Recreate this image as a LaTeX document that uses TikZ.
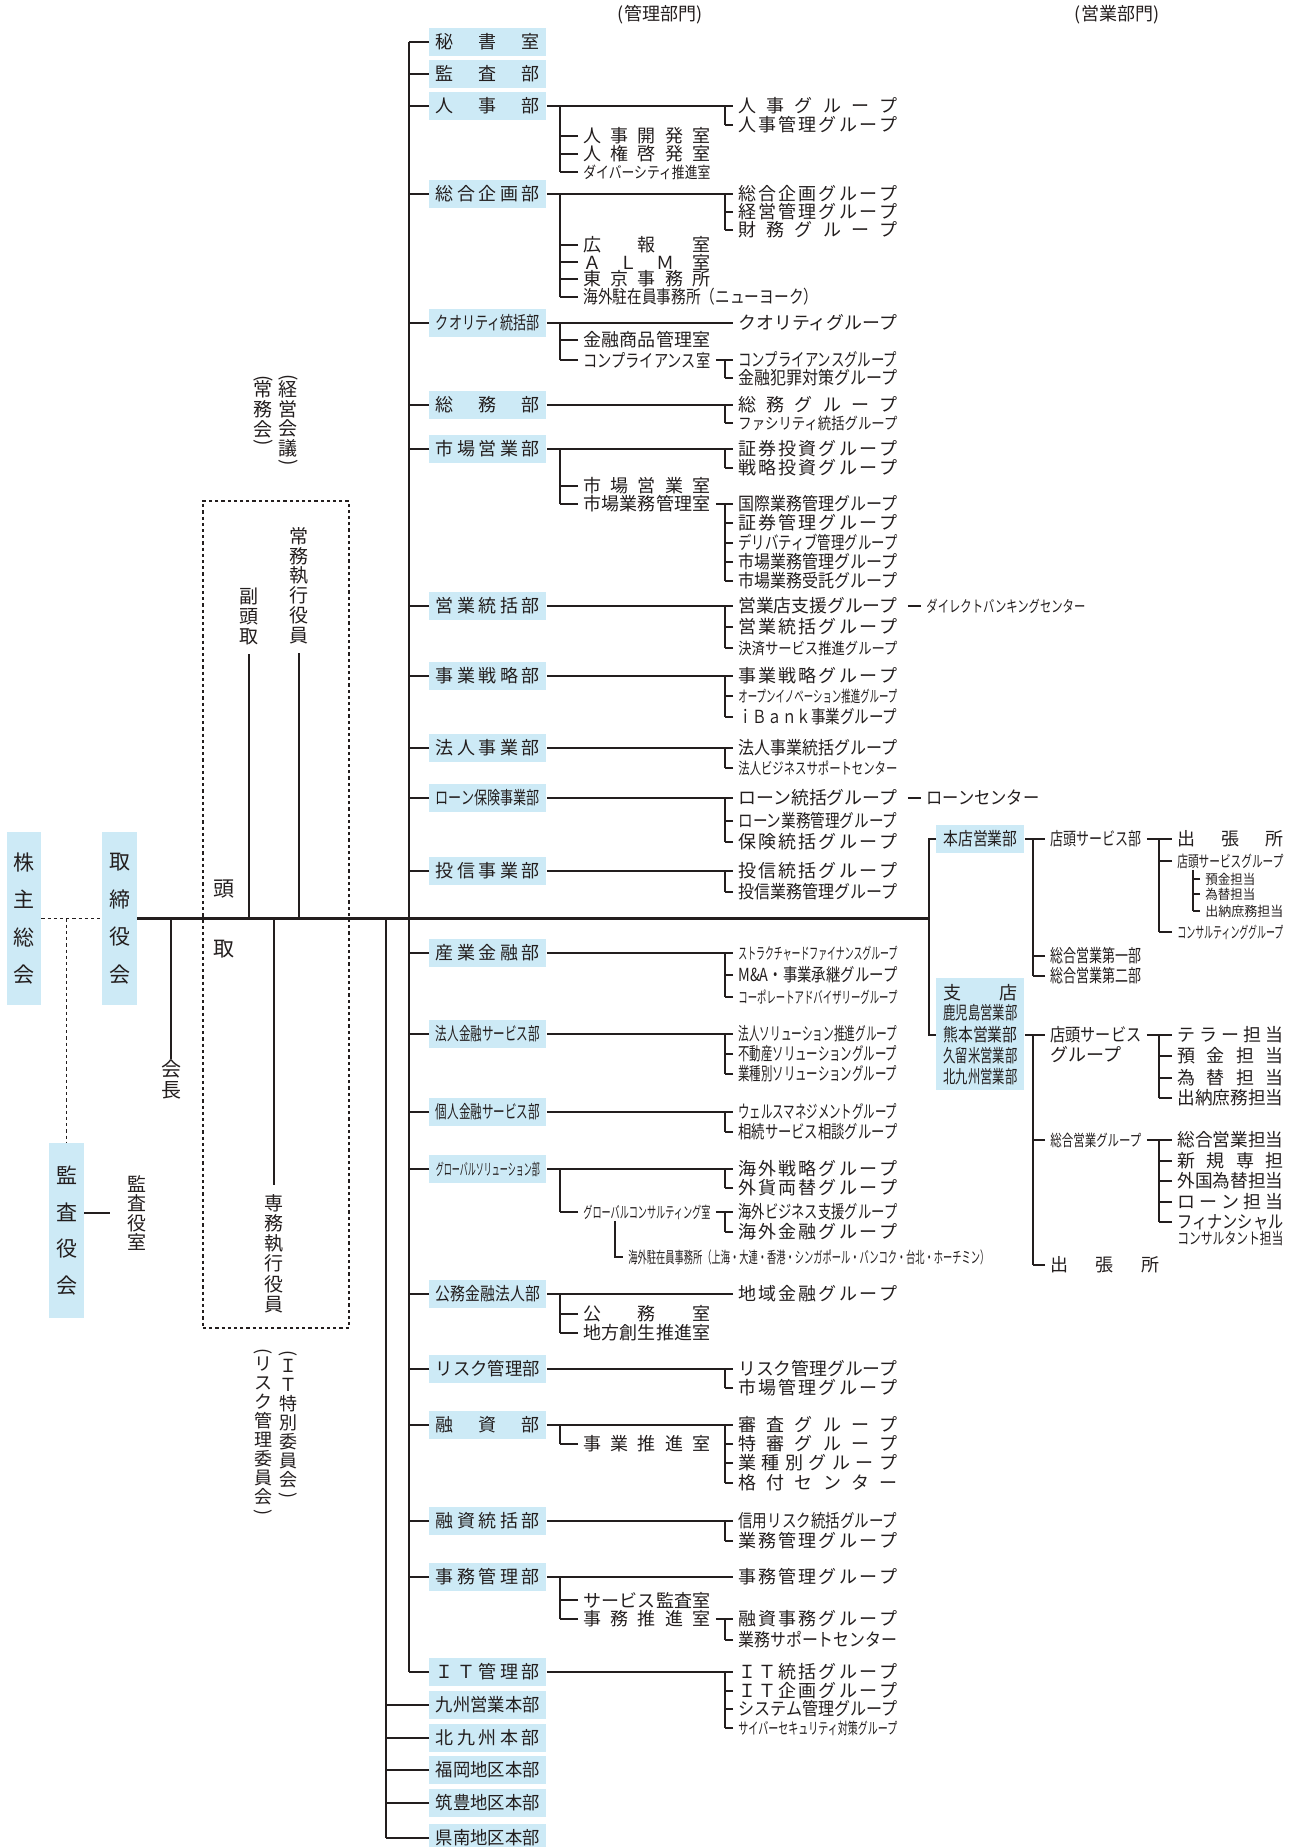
\documentclass[tikz,border=0pt]{standalone}
\usepackage{fontspec}
\usepackage{graphicx}
\setmainfont{Noto Sans CJK JP}
\usetikzlibrary{calc}

\definecolor{boxblue}{RGB}{205,234,246}
\definecolor{lnc}{RGB}{35,30,30}

\newdimen\pxu \pxu=0.5pt
\newcommand\fnb{\fontsize{9pt}{10pt}\selectfont}
\newcommand\fsm{\fontsize{8pt}{9pt}\selectfont}
\newcommand\fxs{\fontsize{6.75pt}{8pt}\selectfont}
\newcommand\fbig{\fontsize{10.5pt}{18.75pt}\selectfont}
\newcommand\fvt{\fontsize{9.5pt}{9.85pt}\selectfont}
\newcommand\fvs{\fontsize{9pt}{9.5pt}\selectfont}

% spread the characters over a width / squeeze them into it
\makeatletter
\newcommand\spr[2]{\hbox to #1\pxu{\def\spr@s{}\@tfor\spr@c:=#2\do{\spr@s\spr@c\def\spr@s{\hfill}}}}
\newcommand\lbl[2]{\setbox\z@\hbox{#2}\ifdim\wd\z@>#1\pxu\relax\resizebox{#1\pxu}{\height}{#2}\else\spr{#1}{#2}\fi}
\makeatother
\newcommand\vpo{\rotatebox[origin=c]{-90}{(}}
\newcommand\vpc{\rotatebox[origin=c]{-90}{)}}

% department box, group, office
\newcommand\dnode[4][]{\node[dept,#1] (#2) at (429,#3) {\lbl{104}{#4}};}
\newcommand\gnode[4][]{\node[grp,#1] (#2) at (733,#3) {\lbl{159}{#4}};}
\newcommand\onode[4][]{\node[grp,#1] (#2) at (578,#3) {\lbl{127}{#4}};}
\newcommand\brk[3]{\draw[ln] (#2 -| #1) -- (#3 -| #1);}
\newcommand\ticks[2]{\foreach \nn in {#2}{\draw[ln] (\nn.west) -- (\nn.west -| #1);}}

\begin{document}
\begin{tikzpicture}[x=0.5pt,y=-0.5pt,
    ln/.style={draw=lnc,line width=0.6pt},
    thk/.style={draw=lnc,line width=1.1pt},
    dsh/.style={draw=lnc,line width=0.55pt,dash pattern=on 1.6pt off 1.5pt},
    dept/.style={fill=boxblue,anchor=west,inner xsep=3.25pt,inner ysep=0pt,minimum height=14pt,text=lnc,font=\fnb},
    grp/.style={anchor=west,inner xsep=2.5pt,inner ysep=0.5pt,text=lnc,font=\fnb},
    vbox/.style={fill=boxblue,align=center,inner sep=0pt,text=lnc,font=\fbig},
    vtxt/.style={align=center,inner sep=0pt,text=lnc}]
    \useasboundingbox (0,0) rectangle (1298,1847);

    % headings
    \node[text=lnc,font=\fnb] (kanri) at (660,15) {(管理部門)};
    \node[text=lnc,font=\fnb] (eigyo) at (1117,15) {(営業部門)};

    % shareholders, board, auditors
    \node[vbox,minimum width=17pt,minimum height=86.5pt] (kabu) at (24,918.5) {株\\主\\総\\会};
    \node[vbox,minimum width=17.5pt,minimum height=86.5pt] (tori) at (119.5,918.5) {取\\締\\役\\会};
    \node[vbox,minimum width=17.5pt,minimum height=87.5pt,font=\fontsize{10.5pt}{18.3pt}\selectfont] (kansa) at (66.5,1230.5) {監\\査\\役\\会};
    \draw[dsh] (kabu.east) -- (tori.west);
    \draw[dsh] (kansa.north |- kabu.east) -- (kansa.north);
    \node[vtxt,font=\fontsize{9.5pt}{9.75pt}\selectfont] (ksr) at (137,1213) {監\\査\\役\\室};
    \draw[ln,shorten >=8.5pt] (kansa.east |- ksr.west) -- (ksr.west);

    % chairman and executives
    \node[vtxt,font=\fontsize{10pt}{10.5pt}\selectfont] (kaicho) at (171,1079) {会\\長};
    \draw[thk] (kaicho.north |- tori.east) -- (kaicho.north);
    \node[dsh,draw=lnc,minimum width=73pt,minimum height=413.5pt,inner sep=0pt] (yakuin) at (276,914.5) {};
    \node[text=lnc,font=\fbig] (toA) at (224,889) {頭};
    \node[text=lnc,font=\fbig] (toB) at (224,949) {取};
    \node[vtxt,font=\fontsize{9.5pt}{10pt}\selectfont] (fuku) at (249,616.5) {副\\頭\\取};
    \node[vtxt,font=\fontsize{9.5pt}{9.9pt}\selectfont] (joumu) at (299,585.5) {常\\務\\執\\行\\役\\員};
    \node[vtxt,font=\fontsize{9.5pt}{10.1pt}\selectfont] (senmu) at (274,1253.5) {専\\務\\執\\行\\役\\員};
    \draw[thk,shorten <=4.5pt] (fuku.south) -- (fuku.south |- tori.east);
    \draw[thk,shorten <=4.5pt] (joumu.south) -- (joumu.south |- tori.east);
    \draw[thk,shorten >=4.5pt] (senmu.north |- tori.east) -- (senmu.north);
    \node[vtxt,font=\fvt] (keiei) at (288,421.5) {\vpo\\[-3.5pt]経\\営\\会\\議\\[-3.5pt]\vpc};
    \node[vtxt,font=\fvt] (jomukai) at (263,412) {\vpo\\[-3.5pt]常\\務\\会\\[-3.5pt]\vpc};
    \node[vtxt,font=\fvs] (itiin) at (288,1425.5) {\vpo\\[-2.5pt]Ｉ\\Ｔ\\特\\別\\委\\員\\会\\[-2.5pt]\vpc};
    \node[vtxt,font=\fvs] (riskiin) at (263,1433) {\vpo\\[-2.5pt]リ\\ス\\ク\\管\\理\\委\\員\\会\\[-2.5pt]\vpc};

    % bracket columns
    \coordinate (ta) at (409,0);
    \coordinate (tb) at (386,918.5);
    \coordinate (ox) at (560,0);
    \coordinate (ox2) at (615,0);
    \coordinate (gx) at (725,0);
    \coordinate (jn) at (929,918.5);
    \coordinate (bx1) at (1033,0);
    \coordinate (bx2) at (1159,0);
    \coordinate (bx3) at (1193,0);

    % main line
    \draw[thk] (tori.east) -- (jn);

    % 秘書室・監査部
    \dnode{hisho}{42}{秘書室}
    \dnode{kansabu}{74}{監査部}

    % 人事部
    \dnode{jinji}{106}{人事部}
    \gnode{jinjiA}{106}{人事グループ}
    \gnode{jinjiB}{125}{人事管理グループ}
    \onode{jinjiX}{136}{人事開発室}
    \onode{jinjiY}{154}{人権啓発室}
    \onode[font=\fsm]{jinjiZ}{172}{ダイバーシティ推進室}
    \draw[ln] (jinji.east) -- (jinjiA.west);
    \brk{gx}{jinjiA.west}{jinjiB.west}
    \ticks{gx}{jinjiB}
    \brk{ox}{jinji.east}{jinjiZ.west}
    \ticks{ox}{jinjiX,jinjiY,jinjiZ}

    % 総合企画部
    \dnode{sogo}{194}{総合企画部}
    \gnode{sogoA}{194}{総合企画グループ}
    \gnode{sogoB}{212}{経営管理グループ}
    \gnode{sogoC}{230}{財務グループ}
    \onode{sogoW}{245}{広報室}
    \onode{sogoX}{262}{ＡＬＭ室}
    \onode{sogoY}{279}{東京事務所}
    \node[grp] (sogoZ) at (578,297) {\lbl{235}{海外駐在員事務所（ニューヨーク）}};
    \draw[ln] (sogo.east) -- (sogoA.west);
    \brk{gx}{sogoA.west}{sogoC.west}
    \ticks{gx}{sogoB,sogoC}
    \brk{ox}{sogo.east}{sogoZ.west}
    \ticks{ox}{sogoW,sogoX,sogoY,sogoZ}

    % クオリティ統括部
    \dnode{qual}{323}{クオリティ統括部}
    \gnode{qualA}{323}{クオリティグループ}
    \onode{qualX}{340}{金融商品管理室}
    \onode{qualY}{360}{コンプライアンス室}
    \gnode{qualB}{360}{コンプライアンスグループ}
    \gnode{qualC}{378}{金融犯罪対策グループ}
    \draw[ln] (qual.east) -- (qualA.west);
    \brk{ox}{qual.east}{qualY.west}
    \ticks{ox}{qualX,qualY}
    \draw[ln] (qualY.east) -- (qualB.west);
    \brk{gx}{qualB.west}{qualC.west}
    \ticks{gx}{qualC}

    % 総務部
    \dnode{somu}{405}{総務部}
    \gnode{somuA}{405}{総務グループ}
    \gnode[font=\fsm]{somuB}{423}{ファシリティ統括グループ}
    \draw[ln] (somu.east) -- (somuA.west);
    \brk{gx}{somuA.west}{somuB.west}
    \ticks{gx}{somuB}

    % 市場営業部
    \dnode{ichiba}{449}{市場営業部}
    \gnode{ichibaA}{449}{証券投資グループ}
    \gnode{ichibaB}{468}{戦略投資グループ}
    \onode{ichibaX}{486}{市場営業室}
    \onode{ichibaY}{504}{市場業務管理室}
    \gnode{ichibaC}{504}{国際業務管理グループ}
    \gnode{ichibaD}{523}{証券管理グループ}
    \gnode{ichibaE}{543}{デリバティブ管理グループ}
    \gnode{ichibaF}{562}{市場業務管理グループ}
    \gnode{ichibaG}{581}{市場業務受託グループ}
    \draw[ln] (ichiba.east) -- (ichibaA.west);
    \brk{gx}{ichibaA.west}{ichibaB.west}
    \ticks{gx}{ichibaB}
    \brk{ox}{ichiba.east}{ichibaY.west}
    \ticks{ox}{ichibaX,ichibaY}
    \draw[ln] (ichibaY.east) -- (ichibaC.west);
    \brk{gx}{ichibaC.west}{ichibaG.west}
    \ticks{gx}{ichibaD,ichibaE,ichibaF,ichibaG}

    % 営業統括部
    \dnode{eito}{606}{営業統括部}
    \gnode{eitoA}{606}{営業店支援グループ}
    \gnode{eitoB}{627}{営業統括グループ}
    \gnode[font=\fsm]{eitoC}{648}{決済サービス推進グループ}
    \node[grp,font=\fsm] (dbc) at (921,606) {\lbl{159}{ダイレクトバンキングセンター}};
    \draw[ln] (eito.east) -- (eitoA.west);
    \brk{gx}{eitoA.west}{eitoC.west}
    \ticks{gx}{eitoB,eitoC}
    \draw[ln,shorten <=2.5pt] (eitoA.east) -- (dbc.west);

    % 事業戦略部
    \dnode{jigyo}{676}{事業戦略部}
    \gnode{jigyoA}{676}{事業戦略グループ}
    \gnode[font=\fsm]{jigyoB}{696}{オープンイノベーション推進グループ}
    \gnode{jigyoC}{717}{ｉＢａｎｋ事業グループ}
    \draw[ln] (jigyo.east) -- (jigyoA.west);
    \brk{gx}{jigyoA.west}{jigyoC.west}
    \ticks{gx}{jigyoB,jigyoC}

    % 法人事業部
    \dnode{hojin}{748}{法人事業部}
    \gnode{hojinA}{748}{法人事業統括グループ}
    \gnode[font=\fsm]{hojinB}{768}{法人ビジネスサポートセンター}
    \draw[ln] (hojin.east) -- (hojinA.west);
    \brk{gx}{hojinA.west}{hojinB.west}
    \ticks{gx}{hojinB}

    % ローン保険事業部
    \dnode{loan}{798}{ローン保険事業部}
    \gnode{loanA}{798}{ローン統括グループ}
    \gnode{loanB}{821}{ローン業務管理グループ}
    \gnode{loanC}{842}{保険統括グループ}
    \node[grp] (lcen) at (921,798) {\lbl{113}{ローンセンター}};
    \draw[ln] (loan.east) -- (loanA.west);
    \brk{gx}{loanA.west}{loanC.west}
    \ticks{gx}{loanB,loanC}
    \draw[ln,shorten <=2.5pt] (loanA.east) -- (lcen.west);

    % 投信事業部
    \dnode{toshin}{871}{投信事業部}
    \gnode{toshinA}{871}{投信統括グループ}
    \gnode{toshinB}{892}{投信業務管理グループ}
    \draw[ln] (toshin.east) -- (toshinA.west);
    \brk{gx}{toshinA.west}{toshinB.west}
    \ticks{gx}{toshinB}

    % 産業金融部
    \dnode{sangyo}{953}{産業金融部}
    \gnode[font=\fsm]{sangyoA}{953}{ストラクチャードファイナンスグループ}
    \gnode{sangyoB}{975}{M\&A・事業承継グループ}
    \gnode[font=\fsm]{sangyoC}{997}{コーポレートアドバイザリーグループ}
    \draw[ln] (sangyo.east) -- (sangyoA.west);
    \brk{gx}{sangyoA.west}{sangyoC.west}
    \ticks{gx}{sangyoB,sangyoC}

    % 法人金融サービス部
    \dnode{hokin}{1034}{法人金融サービス部}
    \gnode{hokinA}{1034}{法人ソリューション推進グループ}
    \gnode{hokinB}{1054}{不動産ソリューショングループ}
    \gnode{hokinC}{1074}{業種別ソリューショングループ}
    \draw[ln] (hokin.east) -- (hokinA.west);
    \brk{gx}{hokinA.west}{hokinC.west}
    \ticks{gx}{hokinB,hokinC}

    % 個人金融サービス部
    \dnode{kokin}{1112}{個人金融サービス部}
    \gnode{kokinA}{1112}{ウェルスマネジメントグループ}
    \gnode{kokinB}{1132}{相続サービス相談グループ}
    \draw[ln] (kokin.east) -- (kokinA.west);
    \brk{gx}{kokinA.west}{kokinB.west}
    \ticks{gx}{kokinB}

    % グローバルソリューション部
    \dnode[font=\fsm]{glob}{1169}{グローバルソリューション部}
    \gnode{globA}{1169}{海外戦略グループ}
    \gnode{globB}{1188}{外貨両替グループ}
    \onode[font=\fsm]{globX}{1212}{グローバルコンサルティング室}
    \gnode{globC}{1212}{海外ビジネス支援グループ}
    \gnode{globD}{1232}{海外金融グループ}
    \node[grp,font=\fsm] (globZ) at (623,1257) {\lbl{361}{海外駐在員事務所（上海・大連・香港・シンガポール・バンコク・台北・ホーチミン）}};
    \draw[ln] (glob.east) -- (globA.west);
    \brk{gx}{globA.west}{globB.west}
    \ticks{gx}{globB}
    \brk{ox}{glob.east}{globX.west}
    \ticks{ox}{globX}
    \draw[ln] (globX.east) -- (globC.west);
    \brk{gx}{globC.west}{globD.west}
    \ticks{gx}{globD}
    \draw[ln] (globX.south -| ox2) |- (globZ.west);

    % 公務金融法人部
    \dnode{komu}{1294}{公務金融法人部}
    \gnode{komuA}{1294}{地域金融グループ}
    \onode{komuX}{1314}{公務室}
    \onode{komuY}{1333}{地方創生推進室}
    \draw[ln] (komu.east) -- (komuA.west);
    \brk{ox}{komu.east}{komuY.west}
    \ticks{ox}{komuX,komuY}

    % リスク管理部
    \dnode{risk}{1369}{リスク管理部}
    \gnode{riskA}{1369}{リスク管理グループ}
    \gnode{riskB}{1388}{市場管理グループ}
    \draw[ln] (risk.east) -- (riskA.west);
    \brk{gx}{riskA.west}{riskB.west}
    \ticks{gx}{riskB}

    % 融資部
    \dnode{yushi}{1425}{融資部}
    \gnode{yushiA}{1425}{審査グループ}
    \gnode{yushiB}{1444}{特審グループ}
    \gnode{yushiC}{1463}{業種別グループ}
    \gnode{yushiD}{1483}{格付センター}
    \onode{yushiX}{1444}{事業推進室}
    \draw[ln] (yushi.east) -- (yushiA.west);
    \brk{gx}{yushiA.west}{yushiD.west}
    \ticks{gx}{yushiB,yushiC,yushiD}
    \brk{ox}{yushi.east}{yushiX.west}
    \ticks{ox}{yushiX}

    % 融資統括部
    \dnode{yuto}{1521}{融資統括部}
    \gnode{yutoA}{1521}{信用リスク統括グループ}
    \gnode{yutoB}{1541}{業務管理グループ}
    \draw[ln] (yuto.east) -- (yutoA.west);
    \brk{gx}{yutoA.west}{yutoB.west}
    \ticks{gx}{yutoB}

    % 事務管理部
    \dnode{jimu}{1577}{事務管理部}
    \gnode{jimuA}{1577}{事務管理グループ}
    \onode{jimuX}{1600}{サービス監査室}
    \onode{jimuY}{1619}{事務推進室}
    \gnode{jimuB}{1619}{融資事務グループ}
    \gnode{jimuC}{1640}{業務サポートセンター}
    \draw[ln] (jimu.east) -- (jimuA.west);
    \brk{ox}{jimu.east}{jimuY.west}
    \ticks{ox}{jimuX,jimuY}
    \draw[ln] (jimuY.east) -- (jimuB.west);
    \brk{gx}{jimuB.west}{jimuC.west}
    \ticks{gx}{jimuC}

    % ＩＴ管理部
    \dnode{itkan}{1672}{ＩＴ管理部}
    \gnode{itkanA}{1672}{ＩＴ統括グループ}
    \gnode{itkanB}{1691}{ＩＴ企画グループ}
    \gnode{itkanC}{1709}{システム管理グループ}
    \gnode[font=\fsm]{itkanD}{1728}{サイバーセキュリティ対策グループ}
    \draw[ln] (itkan.east) -- (itkanA.west);
    \brk{gx}{itkanA.west}{itkanD.west}
    \ticks{gx}{itkanB,itkanC,itkanD}

    % 地区本部
    \dnode{kyushu}{1705}{九州営業本部}
    \dnode{kitaq}{1738}{北九州本部}
    \dnode{fukuoka}{1770}{福岡地区本部}
    \dnode{chikuho}{1803}{筑豊地区本部}
    \dnode{kennan}{1838}{県南地区本部}

    % trunks
    \draw[ln,line width=0.7pt] (hisho.west -| ta) -- (itkan.west -| ta);
    \ticks{ta}{hisho,kansabu,jinji,sogo,qual,somu,ichiba,eito,jigyo,hojin,loan,toshin,sangyo,hokin,kokin,glob,komu,risk,yushi,yuto,jimu,itkan}
    \draw[ln,line width=0.7pt] (tb) -- (kennan.west -| tb);
    \ticks{tb}{kyushu,kitaq,fukuoka,chikuho,kennan}

    % 本店営業部
    \node[dept,inner xsep=3.5pt] (honten) at (936,839) {\lbl{74}{本店営業部}};
    \node[grp] (tsb) at (1045,839) {\lbl{91}{店頭サービス部}};
    \node[grp] (sgA) at (1045,956) {\lbl{91}{総合営業第一部}};
    \node[grp] (sgB) at (1045,976) {\lbl{91}{総合営業第二部}};
    \draw[ln] (honten.east) -- (tsb.west);
    \brk{bx1}{honten.east}{sgB.west}
    \ticks{bx1}{sgA,sgB}
    \node[grp] (tsbA) at (1172,839) {\lbl{106}{出張所}};
    \node[grp,font=\fsm] (tsbB) at (1172,861) {\lbl{106}{店頭サービスグループ}};
    \node[grp,font=\fsm] (tsbC) at (1172,932) {\lbl{106}{コンサルティンググループ}};
    \draw[ln] (tsb.east) -- (tsbA.west);
    \brk{bx2}{tsb.east}{tsbC.west}
    \ticks{bx2}{tsbB,tsbC}
    \node[grp,font=\fxs] (tkA) at (1200,879) {\lbl{50}{預金担当}};
    \node[grp,font=\fxs] (tkB) at (1200,894) {\lbl{50}{為替担当}};
    \node[grp,font=\fxs] (tkC) at (1200,911) {\lbl{78}{出納庶務担当}};
    \draw[ln] (tsbB.south -| bx3) -- (tkC.west -| bx3);
    \ticks{bx3}{tkA,tkB,tkC}

    % 支店
    \node[fill=boxblue,anchor=north west,minimum width=44pt,minimum height=56pt,inner sep=0pt] (shiten) at (936,978) {};
    \node[grp,inner xsep=0pt] (shA) at (943,993) {\lbl{74}{支店}};
    \node[grp,inner xsep=0pt] (shB) at (943,1013) {\lbl{74}{鹿児島営業部}};
    \node[grp,inner xsep=0pt] (shC) at (943,1035) {\lbl{74}{熊本営業部}};
    \node[grp,inner xsep=0pt] (shD) at (943,1056) {\lbl{74}{久留米営業部}};
    \node[grp,inner xsep=0pt] (shE) at (943,1077) {\lbl{74}{北九州営業部}};
    \draw[thk] (honten.west) -| (jn) |- (shiten.west |- shC.west);
    \node[grp] (tbsA) at (1045,1035) {\lbl{91}{店頭サービス}};
    \node[grp] (tbsB) at (1045,1055) {グループ};
    \node[grp,font=\fsm] (sgg) at (1045,1140) {\lbl{91}{総合営業グループ}};
    \node[grp] (shu) at (1045,1265) {\lbl{109}{出張所}};
    \draw[ln] (shiten.east |- shC.west) -- (tbsA.west);
    \brk{bx1}{tbsA.west}{shu.west}
    \ticks{bx1}{sgg,shu}
    \node[grp] (teA) at (1172,1035) {\lbl{106}{テラー担当}};
    \node[grp] (teB) at (1172,1056) {\lbl{106}{預金担当}};
    \node[grp] (teC) at (1172,1078) {\lbl{106}{為替担当}};
    \node[grp] (teD) at (1172,1098) {\lbl{106}{出納庶務担当}};
    \draw[ln] (tbsA.east) -- (teA.west);
    \brk{bx2}{tbsA.east}{teD.west}
    \ticks{bx2}{teB,teC,teD}
    \node[grp] (saA) at (1172,1140) {\lbl{106}{総合営業担当}};
    \node[grp] (saB) at (1172,1161) {\lbl{106}{新規専担}};
    \node[grp] (saC) at (1172,1181) {\lbl{106}{外国為替担当}};
    \node[grp] (saD) at (1172,1202) {\lbl{106}{ローン担当}};
    \node[grp] (saE) at (1172,1222) {\lbl{106}{フィナンシャル}};
    \node[grp,font=\fsm] (saF) at (1172,1238) {\lbl{106}{コンサルタント担当}};
    \draw[ln] (sgg.east) -- (saA.west);
    \brk{bx2}{sgg.east}{saE.west}
    \ticks{bx2}{saB,saC,saD,saE}
\end{tikzpicture}
\end{document}
